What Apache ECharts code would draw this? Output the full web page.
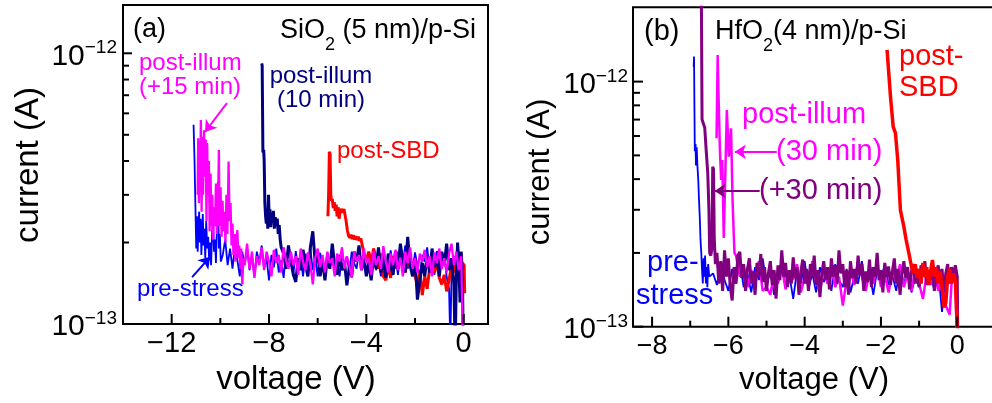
<!DOCTYPE html>
<html>
<head>
<meta charset="utf-8">
<script src="https://cdn.jsdelivr.net/npm/echarts@6/dist/echarts.min.js"></script>
<style>
  html, body { margin: 0; padding: 0; background: #ffffff; }
  #chart { width: 992px; height: 403px; }
</style>
</head>
<body>
<div id="chart"></div>
<script>
// Gate current versus gate voltage, currents stored in fA ([voltage V, current fA]).

// ---- (a) SiO2 (5 nm)/p-Si ----
const sio2PreStress = [
  [-11.10,545],[-11.06,400],[-11.02,260],[-10.99,190],[-10.96,250],[-10.93,185],[-10.90,230],[-10.87,260],
  [-10.84,200],[-10.81,245],[-10.78,180],[-10.75,215],[-10.72,255],[-10.69,195],[-10.66,225],[-10.62,175],
  [-10.58,240],[-10.54,190],[-10.50,210],[-10.46,172],[-10.42,200],[-10.38,165],[-10.34,215],[-10.30,250],
  [-10.26,185],[-10.22,205],[-10.18,168],[-10.14,230],[-10.10,335],[-10.06,190],[-10.02,215],[-9.98,170],
  [-9.9,180],[-9.8,205],[-9.7,165],[-9.6,190],[-9.5,160],[-9.4,195],[-9.3,172],[-9.2,150],[-9.1,185],[-9.0,165],
  [-8.9,192],[-8.8,158],[-8.7,178],[-8.6,150],[-8.5,185],[-8.4,168],[-8.3,195],[-8.2,160],[-8.1,175],[-8.0,145],
  [-7.9,180],[-7.8,162],[-7.7,190],[-7.6,155],[-7.5,172],[-7.4,148],[-7.3,183],[-7.2,165],[-7.1,178],[-7.0,152],
  [-6.9,186],[-6.8,160],[-6.7,175],[-6.6,150],[-6.5,182],[-6.4,166],[-6.3,190],[-6.2,158],[-6.1,176],[-6.0,150],
  [-5.9,183],[-5.8,168],[-5.7,155],[-5.6,180],[-5.5,162],[-5.4,186],[-5.3,158],[-5.2,172],[-5.1,150],[-5.0,181],
  [-4.9,165],[-4.8,178],[-4.7,155],[-4.6,185],[-4.5,168],[-4.4,160],[-4.3,188],[-4.2,163],[-4.1,176],[-4.0,152],
  [-3.9,180],[-3.8,166],[-3.7,190],[-3.6,158],[-3.5,172],[-3.4,150],[-3.3,183],[-3.2,170],[-3.1,160],[-3.0,187],
  [-2.9,165],[-2.8,178],[-2.7,152],[-2.6,182],[-2.5,168],[-2.4,195],[-2.3,160],[-2.2,176],[-2.1,155],[-2.0,184],
  [-1.9,165],[-1.8,150],[-1.7,180],[-1.6,170],[-1.5,192],[-1.4,160],[-1.3,175],[-1.2,152],[-1.1,186],[-1.0,168],
  [-0.9,160],[-0.8,182],[-0.7,150],[-0.6,135],[-0.55,85],[-0.5,150],[-0.4,178],[-0.3,160],[-0.2,185],[-0.1,168],
  [-0.05,150],[0.0,60]
];

const sio2PostIllum10 = [
  [-8.30,918],[-8.28,900],[-8.25,430],[-8.22,440],[-8.20,405],[-8.17,280],[-8.14,250],[-8.11,235],[-8.08,262],
  [-8.05,225],[-8.02,300],[-7.99,240],[-7.96,265],[-7.93,228],[-7.90,255],[-7.86,238],[-7.82,262],[-7.78,225],
  [-7.74,248],[-7.70,230],[-7.66,245],[-7.62,215],[-7.58,232],[-7.54,205],[-7.50,192],
  [-7.4,182],[-7.3,160],[-7.2,195],[-7.1,170],[-7.0,152],[-6.9,143],[-6.8,175],[-6.7,158],[-6.6,188],[-6.5,165],
  [-6.4,150],[-6.3,192],[-6.2,220],[-6.1,168],[-6.0,185],[-5.9,150],[-5.8,172],[-5.7,145],[-5.6,178],[-5.5,160],
  [-5.4,198],[-5.3,165],[-5.2,152],[-5.1,180],[-5.0,158],[-4.9,170],[-4.8,139],[-4.7,162],[-4.6,150],[-4.5,185],
  [-4.4,170],[-4.3,195],[-4.2,158],[-4.1,176],[-4.0,150],[-3.9,168],[-3.8,145],[-3.7,180],[-3.6,160],[-3.5,192],
  [-3.4,155],[-3.3,175],[-3.2,148],[-3.1,182],[-3.0,165],[-2.9,152],[-2.8,186],[-2.7,160],[-2.6,198],[-2.5,170],
  [-2.4,155],[-2.3,210],[-2.2,165],[-2.1,150],[-2.0,175],[-1.9,123],[-1.8,145],[-1.7,168],[-1.6,150],[-1.5,180],
  [-1.4,155],[-1.3,190],[-1.2,162],[-1.1,178],[-1.0,150],[-0.9,185],[-0.8,165],[-0.7,198],[-0.6,158],[-0.5,175],
  [-0.4,140],[-0.35,80],[-0.3,150],[-0.25,200],[-0.2,170],[-0.15,120],[-0.1,185],[-0.05,150],[0.0,60]
];

const sio2PostSBD = [
  [-5.58,250],[-5.55,300],[-5.52,433],[-5.49,425],[-5.46,300],[-5.43,285],[-5.40,290],[-5.36,268],[-5.32,282],
  [-5.28,262],[-5.24,276],[-5.20,250],[-5.16,270],[-5.12,245],[-5.08,258],[-5.04,266],[-5.00,262],[-4.96,258],
  [-4.92,266],[-4.87,262],[-4.83,240],[-4.78,222],[-4.73,212],[-4.68,208],[-4.63,214],[-4.58,206],[-4.53,213],
  [-4.48,205],[-4.43,211],[-4.38,204],[-4.33,210],[-4.28,203],[-4.23,207],[-4.18,198],[-4.12,186],[-4.06,175],
  [-4.0,172],[-3.9,185],[-3.8,168],[-3.7,190],[-3.6,175],[-3.5,160],[-3.4,182],[-3.3,150],[-3.2,145],[-3.1,165],
  [-3.0,148],[-2.9,178],[-2.8,160],[-2.7,185],[-2.6,165],[-2.5,175],[-2.4,155],[-2.3,180],[-2.2,162],[-2.1,170],
  [-2.0,150],[-1.9,140],[-1.8,155],[-1.7,128],[-1.6,150],[-1.5,135],[-1.4,160],[-1.3,178],[-1.2,155],[-1.1,170],
  [-1.0,148],[-0.9,140],[-0.8,152],[-0.7,132],[-0.6,145],[-0.5,165],[-0.4,155],[-0.3,175],[-0.2,160],[-0.1,170],
  [-0.05,168],[0.02,165],[0.04,130]
];

const sio2PostIllum15 = [
  [-10.93,300],[-10.91,485],[-10.88,280],[-10.85,420],[-10.83,330],[-10.80,567],[-10.77,260],[-10.74,492],
  [-10.71,300],[-10.67,520],[-10.64,350],[-10.60,480],[-10.57,240],[-10.54,466],[-10.51,300],[-10.47,400],
  [-10.44,220],[-10.40,360],[-10.37,230],[-10.33,300],[-10.30,205],[-10.26,270],[-10.22,230],[-10.18,330],
  [-10.14,215],[-10.10,260],[-10.06,439],[-10.03,230],[-9.99,320],[-9.95,210],[-9.91,285],[-9.87,220],
  [-9.83,260],[-9.79,200],[-9.75,300],[-9.71,215],[-9.66,398],[-9.62,240],[-9.58,280],[-9.54,195],[-9.50,235],
  [-9.46,180],[-9.42,215],[-9.38,170],[-9.34,205],[-9.30,222],[-9.26,175],[-9.22,195],[-9.18,160],[-9.14,190],
  [-9.10,140],[-9.05,175],[-9.0,165],
  [-8.9,198],[-8.8,160],[-8.7,185],[-8.6,148],[-8.5,178],[-8.4,165],[-8.3,192],[-8.2,158],[-8.1,185],[-8.0,170],
  [-7.9,150],[-7.8,188],[-7.7,168],[-7.6,180],[-7.5,155],[-7.4,192],[-7.3,172],[-7.2,160],[-7.1,185],[-7.0,165],
  [-6.9,178],[-6.8,152],[-6.7,190],[-6.6,170],[-6.5,158],[-6.4,184],[-6.3,166],[-6.2,140],[-6.1,175],[-6.0,190],
  [-5.9,162],[-5.8,180],[-5.7,155],[-5.6,185],[-5.5,168],[-5.4,175],[-5.3,150],[-5.2,182],[-5.1,170],[-5.0,192],
  [-4.9,160],[-4.8,178],[-4.7,165],[-4.6,148],[-4.5,185],[-4.4,170],[-4.3,180],[-4.2,158],[-4.1,190],[-4.0,168],
  [-3.9,175],[-3.8,152],[-3.7,186],[-3.6,165],[-3.5,178],[-3.4,160],[-3.3,194],[-3.2,170],[-3.1,155],[-3.0,182],
  [-2.9,165],[-2.8,188],[-2.7,158],[-2.6,176],[-2.5,150],[-2.4,185],[-2.3,168],[-2.2,192],[-2.1,160],[-2.0,175],
  [-1.9,155],[-1.8,182],[-1.7,170],[-1.6,188],[-1.5,162],[-1.4,178],[-1.3,150],[-1.2,184],[-1.1,168],[-1.0,190],
  [-0.9,160],[-0.8,175],[-0.7,155],[-0.6,182],[-0.5,198],[-0.4,165],[-0.3,185],[-0.2,158],[-0.1,178],
  [-0.05,175],[0.0,60]
];

// ---- (b) HfO2 (4 nm)/p-Si ----
const hfo2PreStress = [
  [-6.91,1150],[-6.90,1265],[-6.89,800],[-6.88,520],[-6.86,557],[-6.85,455],[-6.83,540],[-6.81,449],[-6.79,400],
  [-6.77,330],[-6.75,280],[-6.73,226],[-6.71,200],[-6.69,170],[-6.67,150],[-6.65,190],[-6.63,160],[-6.61,195],
  [-6.59,150],[-6.57,175],[-6.55,145],[-6.53,180],[-6.50,160],
  [-6.4,165],[-6.3,148],[-6.2,180],[-6.1,155],[-6.0,140],[-5.9,172],[-5.8,150],[-5.7,185],[-5.6,145],[-5.5,165],
  [-5.4,138],[-5.3,175],[-5.2,155],[-5.1,190],[-5.0,148],[-4.9,168],[-4.8,135],[-4.7,160],[-4.6,178],[-4.5,145],
  [-4.4,162],[-4.3,130],[-4.2,170],[-4.1,150],[-4.0,185],[-3.9,142],[-3.8,165],[-3.7,138],[-3.6,175],[-3.5,152],
  [-3.4,168],[-3.3,140],[-3.2,180],[-3.1,155],[-3.0,145],[-2.9,172],[-2.8,138],[-2.7,160],[-2.6,150],[-2.5,185],
  [-2.4,145],[-2.3,165],[-2.2,135],[-2.1,170],[-2.0,155],[-1.9,180],[-1.8,148],[-1.7,162],[-1.6,140],[-1.5,175],
  [-1.4,150],[-1.3,168],[-1.2,138],[-1.1,160],[-1.0,145],[-0.9,178],[-0.8,150],[-0.7,165],[-0.6,140],[-0.5,170],
  [-0.4,115],[-0.3,155],[-0.2,172],[-0.1,160],[-0.05,175],[0.0,80]
];

const hfo2PostIllum30 = [
  [-6.31,587],[-6.28,1284],[-6.26,900],[-6.22,520],[-6.19,397],[-6.16,479],[-6.12,230],[-6.08,420],[-6.04,766],
  [-6.01,600],[-5.99,494],[-5.96,560],[-5.93,645],[-5.89,329],[-5.86,240],[-5.84,200],
  [-5.8,195],[-5.7,160],[-5.6,178],[-5.5,145],[-5.4,170],[-5.3,152],[-5.2,185],[-5.1,140],[-5.0,145],[-4.9,135],
  [-4.8,165],[-4.7,150],[-4.6,175],[-4.5,142],[-4.4,168],[-4.3,155],[-4.2,180],[-4.1,138],[-4.0,160],[-3.9,148],
  [-3.8,185],[-3.7,155],[-3.6,140],[-3.5,170],[-3.4,150],[-3.3,178],[-3.2,145],[-3.1,160],[-3.0,122],[-2.9,155],
  [-2.8,172],[-2.7,148],[-2.6,185],[-2.5,160],[-2.4,140],[-2.3,168],[-2.2,150],[-2.1,178],[-2.0,145],[-1.9,162],
  [-1.8,138],[-1.7,170],[-1.6,152],[-1.5,180],[-1.4,145],[-1.3,165],[-1.2,140],[-1.1,172],[-1.0,150],[-0.9,130],
  [-0.8,165],[-0.7,148],[-0.6,175],[-0.5,140],[-0.4,160],[-0.3,122],[-0.2,112],[-0.15,150],[-0.1,170],
  [-0.05,160],[0.0,70]
];

const hfo2PostIllumPlus30 = [
  [-6.71,2600],[-6.69,700],[-6.66,678],[-6.62,650],[-6.58,520],[-6.54,423],[-6.51,300],[-6.49,200],[-6.46,195],
  [-6.43,210],[-6.41,449],[-6.39,440],[-6.37,230],[-6.34,180],
  [-6.30,200],[-6.25,150],[-6.20,185],[-6.15,140],[-6.10,205],[-6.05,160],[-6.00,190],[-5.95,145],[-5.90,128],
  [-5.85,175],[-5.80,150],[-5.75,195],[-5.70,202],[-5.65,158],[-5.60,180],[-5.55,140],[-5.50,172],[-5.45,190],
  [-5.40,150],[-5.35,168],[-5.30,135],[-5.25,182],[-5.20,160],[-5.15,198],[-5.10,152],[-5.05,175],[-5.00,140],
  [-4.95,165],[-4.90,185],[-4.85,148],[-4.80,170],[-4.75,130],[-4.70,178],[-4.65,155],[-4.60,205],[-4.55,160],
  [-4.50,182],[-4.45,145],[-4.40,170],[-4.35,150],[-4.30,192],[-4.25,158],[-4.20,175],[-4.15,135],[-4.10,168],
  [-4.05,188],[-4.00,150],[-3.95,172],[-3.90,140],[-3.85,180],[-3.80,160],[-3.75,195],[-3.70,148],[-3.65,170],
  [-3.60,132],[-3.55,165],[-3.50,185],[-3.45,155],[-3.40,175],[-3.35,142],[-3.30,190],[-3.25,160],[-3.20,178],
  [-3.15,150],[-3.10,205],[-3.05,165],[-3.00,180],[-2.95,145],[-2.90,170],[-2.85,135],[-2.80,185],[-2.75,158],
  [-2.70,172],[-2.65,150],[-2.60,195],[-2.55,162],[-2.50,180],[-2.45,140],[-2.40,168],[-2.35,152],[-2.30,188],
  [-2.25,145],[-2.20,175],[-2.15,160],[-2.10,200],[-2.05,155],[-2.00,170],[-1.95,138],[-1.90,182],[-1.85,160],
  [-1.80,176],[-1.75,148],[-1.70,168],[-1.65,190],[-1.60,150],[-1.55,172],[-1.50,135],[-1.45,165],[-1.40,185],
  [-1.35,158],[-1.30,175],[-1.25,142],[-1.20,168],[-1.15,180],[-1.10,150],[-1.05,170],[-1.00,145],[-0.95,178],
  [-0.90,160],[-0.85,185],[-0.80,148],[-0.75,170],[-0.70,155],[-0.65,182],[-0.60,140],[-0.55,165],[-0.50,178],
  [-0.45,152],[-0.40,172],[-0.35,138],[-0.30,165],[-0.25,180],[-0.20,150],[-0.15,175],[-0.10,160],[-0.05,178],
  [0.00,160],[0.02,70]
];

const hfo2PostSBD = [
  [-1.84,1347],[-1.75,869],[-1.68,655],[-1.62,616],[-1.56,479],[-1.49,299],[-1.40,256],[-1.34,226],[-1.27,200],
  [-1.20,176],[-1.15,165],[-1.10,180],[-1.05,158],[-1.00,172],[-0.95,150],[-0.90,182],[-0.85,160],[-0.80,175],
  [-0.75,148],[-0.70,168],[-0.65,187],[-0.60,160],[-0.55,175],[-0.50,150],[-0.45,168],[-0.40,145],[-0.35,120],
  [-0.30,125],[-0.25,160],[-0.20,172],[-0.15,150],[-0.10,165],[-0.05,155],[0.0,100]
];

// ---- axis ticks ----
const sio2VoltTicks = [-12, -8, -4, 0];
const sio2VoltMinorTicks = [-10, -6, -2];
const hfo2VoltTicks = [-8, -6, -4, -2, 0];
const hfo2VoltMinorTicks = [-7, -5, -3, -1];
const currentTicks = [100, 1000];                       // fA: 1e-13 A, 1e-12 A
const currentMinorTicks = [200, 300, 400, 500, 600, 700, 800, 900];

const FONT = '"Liberation Sans", Arial, Helvetica, sans-serif';
const MINUS = '\u2212';

function font(size) { return size + 'px ' + FONT; }
function voltLabel(v) { return v < 0 ? MINUS + Math.abs(v) : String(v); }
function currentLabel(v) {
  const e = Math.round(Math.log10(v)) - 15;
  return '{b|10}{s|' + (e < 0 ? MINUS : '') + Math.abs(e) + '}';
}

const panels = [
  { rect: { left: 123, top: 5, width: 365, height: 319 }, vMin: -14, vMax: 1, iMin: 100, iMax: 1508 },
  { rect: { left: 633, top: 7.3, width: 362.4, height: 319.4 }, vMin: -8.5, vMax: 1, iMin: 100, iMax: 2010 }
];

function frame(p) {
  return Object.assign({
    show: true, borderColor: '#000', borderWidth: 2, backgroundColor: 'transparent',
    containLabel: false, outerBoundsMode: 'none'
  }, p.rect);
}

function voltAxis(i, labels, fontSize, margin) {
  const p = panels[i];
  return {
    type: 'value', gridIndex: i, min: p.vMin, max: p.vMax, position: 'bottom',
    axisLine: { show: false, onZero: false },
    splitLine: { show: false },
    axisTick: { show: false },
    axisLabel: { show: true, customValues: labels, formatter: voltLabel, margin,
                 color: '#000', fontFamily: FONT, fontSize }
  };
}

function currentAxis(i, fontSize, supSize, margin) {
  const p = panels[i];
  const rich = {
    b: { fontFamily: FONT, fontSize, lineHeight: fontSize, color: '#000', padding: [6, 0, 0, 0] },
    s: { fontFamily: FONT, fontSize: supSize, lineHeight: supSize, color: '#000', verticalAlign: 'top' }
  };
  return {
    type: 'log', logBase: 10, gridIndex: i, min: p.iMin, max: p.iMax, position: 'left',
    axisLine: { show: false, onZero: false },
    splitLine: { show: false },
    axisTick: { show: false },
    axisLabel: { show: true, customValues: currentTicks, formatter: currentLabel, margin,
                 color: '#000', fontFamily: FONT, fontSize, rich }
  };
}

// Inward tick marks placed through the panel's own scales.
function tickMarks(i, voltTicks, voltLen, currTicks, currLen) {
  const p = panels[i];
  const data = [];
  voltTicks.forEach(v => data.push([v, p.iMin, 0]));
  currTicks.forEach(c => data.push([p.vMin, c, 1]));
  const lens = [voltLen, currLen];
  return {
    type: 'custom', xAxisIndex: i, yAxisIndex: i, silent: true, clip: false, z: 5,
    data,
    renderItem(params, api) {
      const pt = api.coord([api.value(0), api.value(1)]);
      const vertical = api.value(2) === 0;
      const len = lens[api.value(2)];
      return {
        type: 'line',
        shape: vertical ? { x1: pt[0], y1: pt[1], x2: pt[0], y2: pt[1] - len }
                        : { x1: pt[0], y1: pt[1], x2: pt[0] + len, y2: pt[1] },
        style: { stroke: '#000', lineWidth: 2 }
      };
    }
  };
}

function curve(name, data, color, width, axisIndex, arrow) {
  const s = {
    name, type: 'line', data, xAxisIndex: axisIndex, yAxisIndex: axisIndex,
    showSymbol: false, symbol: 'none', clip: true, silent: true,
    lineStyle: { color, width },
    itemStyle: { color },
    emphasis: { disabled: true }
  };
  if (arrow) {
    s.markLine = {
      silent: true, symbol: ['none', 'arrow'], symbolSize: 11,
      label: { show: false },
      lineStyle: { color, width: 2, type: 'solid' },
      emphasis: { disabled: true },
      data: [[{ coord: arrow[0] }, { coord: arrow[1] }]]
    };
  }
  return s;
}

function label(x, y, text, color, fontSize, opts) {
  opts = opts || {};
  const el = {
    type: 'text', x, y, silent: true,
    style: Object.assign({ text, fill: color, font: font(fontSize),
                           align: 'left', verticalAlign: 'middle' }, opts.style || {})
  };
  if (opts.rotation !== undefined) el.rotation = opts.rotation;
  return el;
}

function formulaLabel(x, y, parts, align, fontSize) {
  return {
    type: 'text', x, y, silent: true,
    style: {
      text: '{n|' + parts[0] + '}{sub|2}{n|' + parts[1] + '}',
      font: font(fontSize), fill: '#000',
      align, verticalAlign: 'middle',
      rich: {
        n: { font: font(fontSize), fontSize, lineHeight: fontSize, fill: '#000' },
        sub: { font: font(18), fontSize: 18, lineHeight: 18, fill: '#000',
               verticalAlign: 'top', padding: [19, 0, 0, 0] }
      }
    }
  };
}

const chart = echarts.init(document.getElementById('chart'), null, { renderer: 'canvas' });

const option = {
  animation: false,
  backgroundColor: '#ffffff',
  grid: [ frame(panels[0]), frame(panels[1]) ],
  xAxis: [ voltAxis(0, sio2VoltTicks, 29, 5), voltAxis(1, hfo2VoltTicks, 27, 6) ],
  yAxis: [ currentAxis(0, 30, 19, 6), currentAxis(1, 29, 19, 5) ],
  series: [
    curve('pre-stress', sio2PreStress, '#0000ff', 1.8, 0, [[-11.16, 149], [-10.42, 177]]),
    curve('post-SBD', sio2PostSBD, '#ff0000', 3, 0),
    curve('post-illum (10 min)', sio2PostIllum10, '#000080', 3, 0),
    curve('post-illum (+15 min)', sio2PostIllum15, '#ff00ff', 2.3, 0, [[-9.73, 655], [-10.63, 512]]),

    curve('pre-stress', hfo2PreStress, '#0000ff', 1.8, 1),
    curve('post-illum (30 min)', hfo2PostIllum30, '#ff00ff', 2.5, 1, [[-4.73, 517], [-5.83, 517]]),
    curve('post-illum (+30 min)', hfo2PostIllumPlus30, '#800080', 3, 1, [[-5.18, 358], [-6.36, 358]]),
    curve('post-SBD', hfo2PostSBD, '#ff0000', 3.5, 1),

    tickMarks(0, sio2VoltTicks, 10, currentTicks, 9),
    tickMarks(0, sio2VoltMinorTicks, 6, currentMinorTicks, 6),
    tickMarks(1, hfo2VoltTicks, 10, currentTicks, 10),
    tickMarks(1, hfo2VoltMinorTicks, 6, currentMinorTicks, 7)
  ],
  graphic: [
    // panel (a)
    label(28.5, 165, 'current (A)', '#000', 33, { rotation: Math.PI / 2, style: { align: 'center' } }),
    label(296, 380, 'voltage (V)', '#000', 33, { style: { align: 'center' } }),
    label(133, 30, '(a)', '#000', 27),
    formulaLabel(476, 30.5, ['SiO', ' (5 nm)/p-Si'], 'right', 27),
    label(139, 75, 'post-illum\n(+15 min)', '#ff00ff', 24, { style: { lineHeight: 24 } }),
    label(321, 88, 'post-illum\n(10 min)', '#000080', 24, { style: { lineHeight: 24, align: 'center' } }),
    label(337, 151, 'post-SBD', '#ff0000', 24),
    label(137, 289, 'pre-stress', '#0000ff', 24),
    // panel (b)
    label(540, 172, 'current (A)', '#000', 31, { rotation: Math.PI / 2, style: { align: 'center' } }),
    label(814, 380, 'voltage (V)', '#000', 31, { style: { align: 'center' } }),
    label(644, 32, '(b)', '#000', 29),
    formulaLabel(715, 32, ['HfO', '(4 nm)/p-Si'], 'left', 27),
    label(899, 72.5, 'post-\nSBD', '#ff0000', 29, { style: { lineHeight: 31 } }),
    label(742, 115, 'post-illum', '#ff00ff', 29),
    label(776, 152, '(30 min)', '#ff00ff', 29),
    label(759, 191, '(+30 min)', '#800080', 29),
    label(647, 263, 'pre-', '#0000ff', 29),
    label(636, 296, 'stress', '#0000ff', 29)
  ]
};

chart.setOption(option);
</script>
</body>
</html>
